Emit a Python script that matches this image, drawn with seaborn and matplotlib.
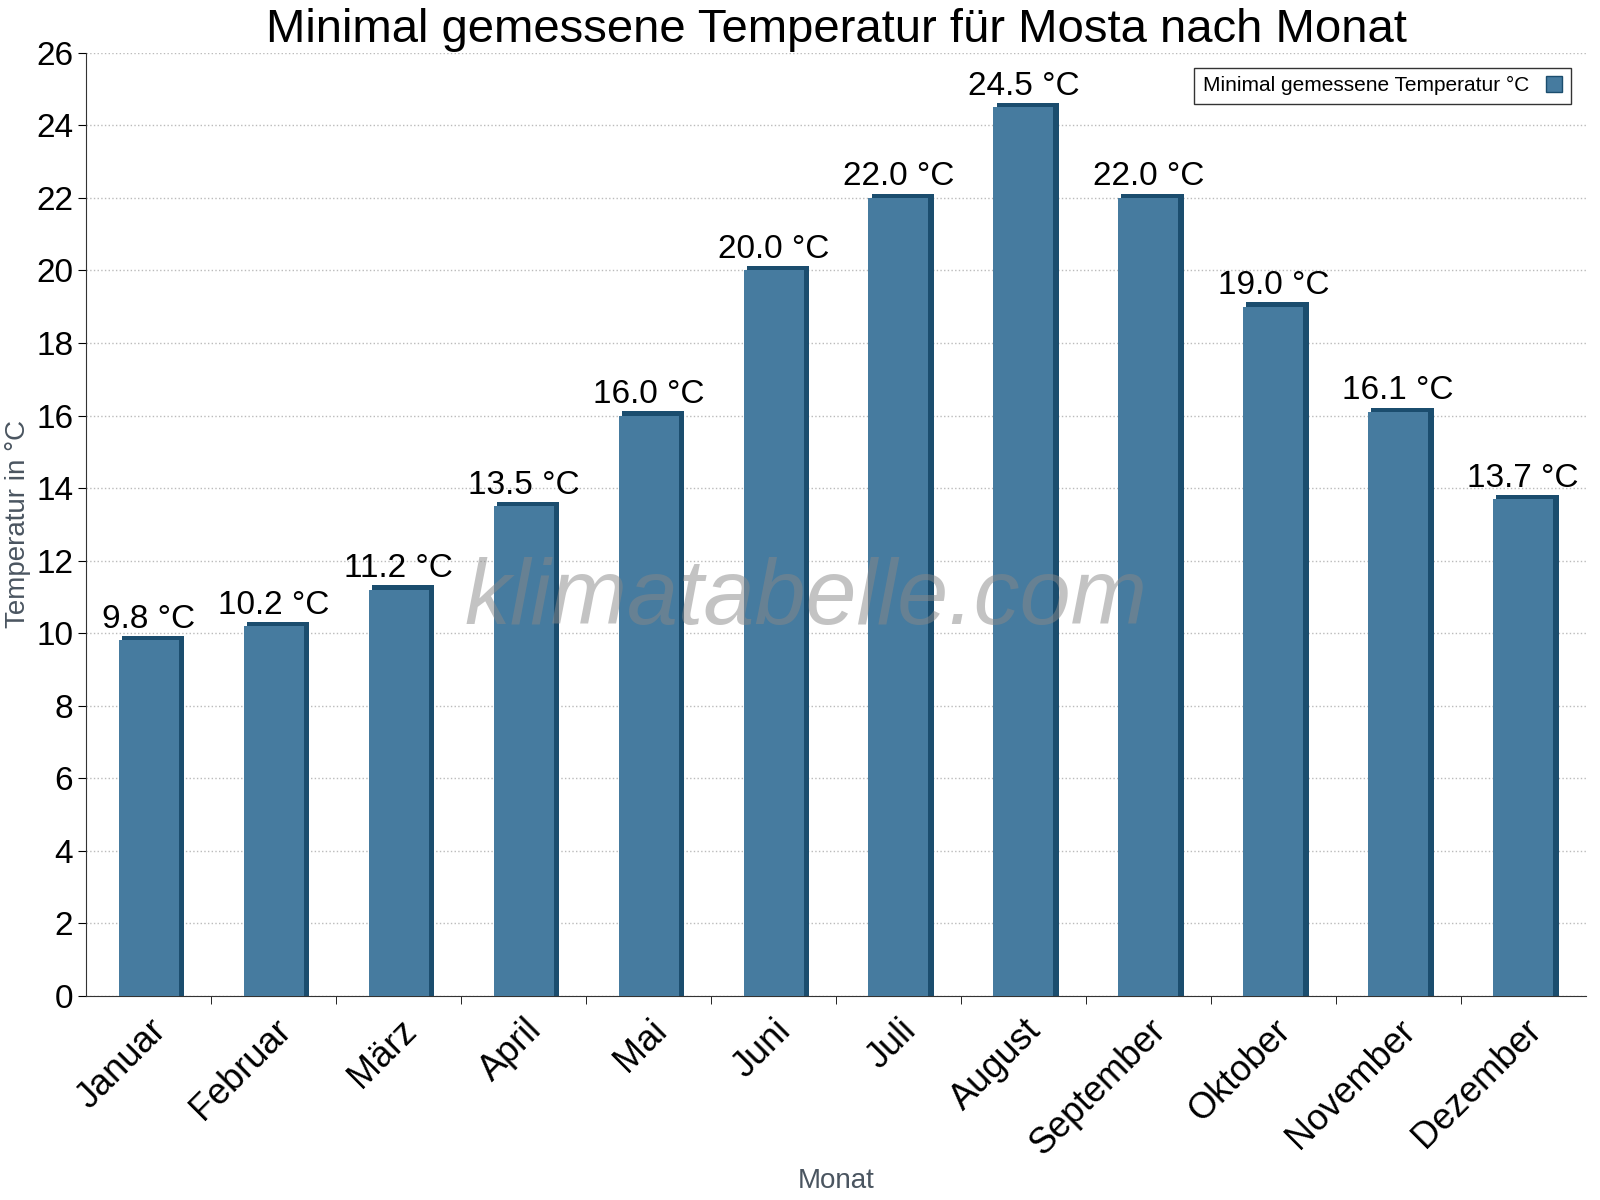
import numpy as np
import pandas as pd
import matplotlib.pyplot as plt
import seaborn as sns
from matplotlib.patches import Patch

months = ['Januar', 'Februar', 'März', 'April', 'Mai', 'Juni', 'Juli',
          'August', 'September', 'Oktober', 'November', 'Dezember']
temps = [9.8, 10.2, 11.2, 13.5, 16.0, 20.0, 22.0, 24.5, 22.0, 19.0, 16.1, 13.7]

df = pd.DataFrame({'Monat': months, 'Temp': temps})

sns.set_style('white', {'font.family': 'Liberation Sans'})
plt.rcParams['font.family'] = 'Liberation Sans'
plt.rcParams['text.color'] = 'black'
plt.rcParams['xtick.color'] = 'black'
plt.rcParams['ytick.color'] = 'black'
fig = plt.figure(figsize=(16, 12), dpi=100)
ax = fig.add_axes([0.054, 0.17, 0.937, 0.786])

# dark "3D" side, drawn behind the main bar
x = np.arange(len(months))
ax.bar(x + 0.035, np.array(temps) + 0.12, width=0.5, color='#1b4d6e', linewidth=0, zorder=2)
sns.barplot(data=df, x='Monat', y='Temp', color='#467b9f', saturation=1,
            width=0.48, ax=ax, zorder=3, linewidth=0)

for xi, v in zip(x, temps):
    ax.text(xi, v + 0.15, f'{v:.1f} °C', ha='center', va='bottom', fontsize=24, zorder=4)

ax.set_ylim(0, 26)
ax.set_xlim(-0.5, 11.5)
ax.set_yticks(range(0, 27, 2))
ax.tick_params(axis='y', labelsize=24, length=6, direction='out', left=True)
ax.set_xticks(x)
ax.set_xticklabels(months, rotation=45, ha='right', rotation_mode='anchor', fontsize=26)
ax.tick_params(axis='x', length=0, pad=12)
ax.set_xticks(np.arange(0.5, 11.5, 1), minor=True)
ax.tick_params(axis='x', which='minor', length=6, bottom=True)
ax.yaxis.grid(True, linestyle=':', color='#bbbbbb', linewidth=1)
ax.set_axisbelow(True)
for s in ['top', 'right']:
    ax.spines[s].set_visible(False)
for s in ['left', 'bottom']:
    ax.spines[s].set_color('#333333')

ax.set_xlabel('Monat', fontsize=20, color='#4a5560')
ax.set_ylabel('Temperatur in °C', fontsize=20, color='#4a5560')
ax.set_title('Minimal gemessene Temperatur für Mosta nach Monat', fontsize=34, pad=8)

ax.text(0.48, 0.42, 'klimatabelle.com', transform=ax.transAxes, ha='center', va='center',
        fontsize=66, style='italic', color='#888888', alpha=0.5, zorder=5)

leg = ax.legend(handles=[Patch(facecolor='#467b9f', edgecolor='#1b4d6e')],
                labels=['Minimal gemessene Temperatur °C'], loc='upper right',
                fontsize=15, markerfirst=False, fancybox=False, framealpha=1,
                edgecolor='#333333', handlelength=0.8, handleheight=0.8,
                bbox_to_anchor=(0.997, 0.995))

fig.savefig('out.png', dpi=100)
